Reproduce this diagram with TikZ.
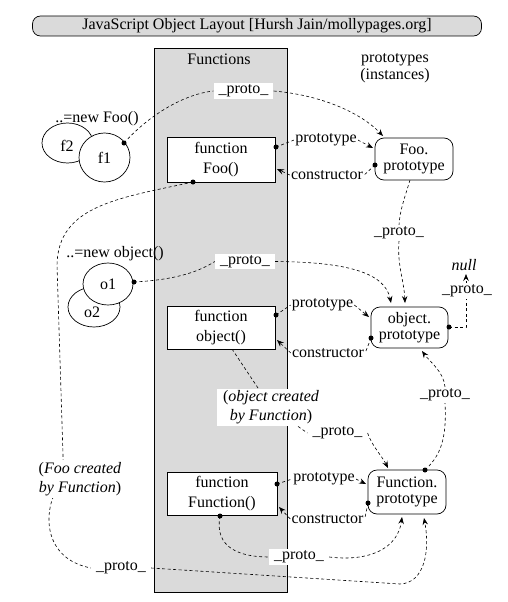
\documentclass[tikz,border=0pt]{standalone}
\usepackage{fontspec}
\setmainfont{Liberation Serif}
\usetikzlibrary{arrows.meta,shapes.geometric,calc}
\pgfdeclarelayer{back}
\pgfdeclarelayer{mid}
\pgfsetlayers{back,mid,main}
\definecolor{colgray}{RGB}{218,218,218}
\tikzset{
  base/.style={font=\fontsize{16}{19}\selectfont},
  fnbox/.style={base, draw, fill=white, line width=0.7pt, align=center, inner sep=0pt, font=\fontsize{16}{20}\selectfont},
  protobox/.style={base, draw, fill=white, line width=0.7pt, rounded corners=9pt, align=center, inner sep=0pt, font=\fontsize{16}{16}\selectfont},
  inst/.style={base, draw, fill=white, ellipse, line width=0.7pt, inner sep=0pt},
  plbl/.style={base, fill=white, inner xsep=5pt, inner ysep=1.5pt},
  slbl/.style={base, fill=white, inner sep=1pt},
  conn/.style={dashed, dash pattern=on 3pt off 2.5pt, line width=0.6pt, -{Stealth[length=7pt,width=5.5pt,inset=2.5pt]}},
  dotc/.style={fill=black}
}
\begin{document}
\begin{tikzpicture}[x=1pt,y=-1pt]
\useasboundingbox (0,0) rectangle (508,602);
% column
\begin{pgfonlayer}{back}
\node[draw, fill=colgray, line width=0.7pt, minimum width=133pt, minimum height=544pt, inner sep=0pt] (col) at (220.5,320) {};
\end{pgfonlayer}
% title
\node[base, draw, fill=colgray, line width=0.7pt, rounded corners=8pt, minimum width=449pt, minimum height=20pt, inner sep=0pt] (title) at (257,26) {JavaScript Object Layout [Hursh Jain/mollypages.org]};
\node[base] (colhead) at (219,59) {Functions};
\node[base, align=center, font=\fontsize{16}{17}\selectfont] (protohead) at (395,68) {prototypes\\(instances)};

% instances
\node[base] (newfoo) at (97,119) {..=new Foo()};
\node[inst, minimum width=51pt, minimum height=40pt] (f2) at (67.5,143) {};
\node[base] (f2t) at (67,146) {f2};
\node[inst, minimum width=51pt, minimum height=49pt] (f1) at (104.5,157.5) {f1};
\node[base] (newobj) at (115,254) {..=new object()};
\node[inst, minimum width=52pt, minimum height=40pt] (o2) at (94,307) {};
\node[base] (o2t) at (92,312) {o2};
\node[inst, minimum width=50pt, minimum height=42pt] (o1) at (108,284) {o1};

% function boxes
\node[fnbox, minimum width=108pt, minimum height=45pt] (fooFn) at (221,159.5) {function\\Foo()};
\node[fnbox, minimum width=108pt, minimum height=43pt] (objFn) at (221,327.5) {function\\object()};
\node[fnbox, minimum width=110pt, minimum height=43pt] (funFn) at (222,493.5) {function\\Function()};

% prototype boxes
\node[protobox, minimum width=78pt, minimum height=42pt] (fooP) at (414,159) {Foo.\\prototype};
\node[protobox, minimum width=77pt, minimum height=41pt] (objP) at (409.5,327.5) {object.\\prototype};
\node[protobox, minimum width=78pt, minimum height=44pt] (funP) at (407,492) {Function.\\prototype};

% labels
\node[plbl] (lp1) at (243.5,91) {\_proto\_};
\node[slbl] (pr1) at (326,140) {prototype};
\node[slbl] (co1) at (327,175) {constructor};
\node[plbl] (lp2) at (399,233) {\_proto\_};
\node[plbl] (lp3) at (245,261.5) {\_proto\_};
\node[slbl] (pr2) at (322.5,305) {prototype};
\node[slbl] (co2) at (328,353) {constructor};
\node[base, font=\fontsize{16}{19}\selectfont\itshape] (null) at (464,265) {null};
\node[plbl] (lnull) at (467,291) {\_proto\_};
\node[base, fill=white, align=center, inner xsep=6pt, inner ysep=2pt] (objlab) at (271,407.5) {(\textit{object created}\\\textit{by Function})};
\node[plbl] (lp4) at (337.5,433) {\_proto\_};
\node[plbl] (lp5) at (445,395) {\_proto\_};
\node[slbl] (pr3) at (324,479) {prototype};
\node[slbl] (co3) at (327.5,519) {constructor};
\node[plbl] (lp6) at (299,557) {\_proto\_};
\node[base, fill=white, align=center, inner sep=2pt] (foolab) at (80,479) {(\textit{Foo created}\\\textit{by Function})};
\node[plbl] (lp7) at (121,568) {\_proto\_};

% dot coordinates
\coordinate (c_f1) at (124,143);
\coordinate (c_fooFn_r) at (276,147);
\coordinate (c_fooP_l) at (375,165);
\coordinate (c_fooFn_b) at (193,182);
\coordinate (c_o1) at (134,282);
\coordinate (c_objFn_r) at (276,315);
\coordinate (c_objP_l) at (371,338);
\coordinate (c_objP_r) at (449,327);
\coordinate (c_funP_t) at (425,470);
\coordinate (c_funFn_r) at (277,484);
\coordinate (c_funP_l) at (368,503);
\coordinate (c_funFn_b) at (220,516);
% plain start coordinates
\coordinate (s_fooP_b) at (410,180);
\coordinate (s_objFn_b) at (232,349);
% arrow targets
\coordinate (t_fooP_tl) at (383,136);
\coordinate (t_fooP_l) at (373,148);
\coordinate (t_fooFn_r) at (277,169);
\coordinate (t_objP_t1) at (391,303);
\coordinate (t_objP_t2) at (405,303);
\coordinate (t_objP_l) at (369,317);
\coordinate (t_objFn_r) at (277,340);
\coordinate (t_objP_b) at (422,351);
\coordinate (t_null) at (466,274);
\coordinate (t_funP_t) at (388,468);
\coordinate (t_funP_l) at (366,484);
\coordinate (t_funFn_r) at (279,507);
\coordinate (t_funP_b1) at (402,517);
\coordinate (t_funP_b2) at (424,518);

\begin{pgfonlayer}{mid}
% f1 -> Foo.prototype
\draw[conn] (c_f1) .. controls (150,114) and (185,94) .. (lp1.west) (lp1.east) .. controls (320,95) and (360,112) .. (t_fooP_tl);
% Foo prototype / constructor
\draw[conn] (c_fooFn_r) -- (pr1.west) (pr1.east) -- (t_fooP_l);
\draw[conn] (c_fooP_l) -- (co1.east) (co1.west) -- (t_fooFn_r);
% Foo.prototype -> object.prototype
\draw[conn] (s_fooP_b) .. controls (404,200) and (400,210) .. (lp2.north) (lp2.south) .. controls (397,265) and (404,280) .. (t_objP_t2);
% o1 -> object.prototype
\draw[conn] (c_o1) .. controls (170,280) and (195,274) .. (lp3.west) (lp3.east) .. controls (345,262) and (385,272) .. (t_objP_t1);
% object prototype / constructor
\draw[conn] (c_objFn_r) -- (pr2.west) (pr2.east) -- (t_objP_l);
\draw[conn] (c_objP_l) -- (co2.east) (co2.west) -- (t_objFn_r);
% object.prototype -> null
\draw[conn] (c_objP_r) -| (t_null);
% object() -> Function.prototype
\draw[conn] (s_objFn_b) -- (objlab) -- (lp4.west) (lp4.east) .. controls (372,446) and (382,456) .. (t_funP_t);
% Function.prototype -> object.prototype
\draw[conn] (c_funP_t) .. controls (440,456) and (447,440) .. (lp5.south) (lp5.north) .. controls (444,372) and (430,362) .. (t_objP_b);
% Function prototype / constructor
\draw[conn] (c_funFn_r) -- (pr3.west) (pr3.east) -- (t_funP_l);
\draw[conn] (c_funP_l) -- (co3.east) (co3.west) -- (t_funFn_r);
% Function() -> Function.prototype
\draw[conn] (c_funFn_b) .. controls (214,548) and (240,557) .. (lp6.west) (lp6.east) .. controls (370,562) and (398,548) .. (t_funP_b1);
% Foo() -> Function.prototype
\draw[conn] (c_fooFn_b) .. controls (120,198) and (58,205) .. (57,265) -- (63,455) .. controls (64,475) and (56,490) .. (52,500) .. controls (44,525) and (50,560) .. (lp7.west) (lp7.east) -- (400,584) .. controls (425,583) and (430,550) .. (t_funP_b2);
\end{pgfonlayer}

% dots
\foreach \c in {c_f1,c_fooFn_r,c_fooP_l,c_fooFn_b,c_o1,c_objFn_r,c_objP_l,c_objP_r,c_funP_t,c_funFn_r,c_funP_l,c_funFn_b}
  \fill (\c) circle (2.5pt);
\end{tikzpicture}
\end{document}
